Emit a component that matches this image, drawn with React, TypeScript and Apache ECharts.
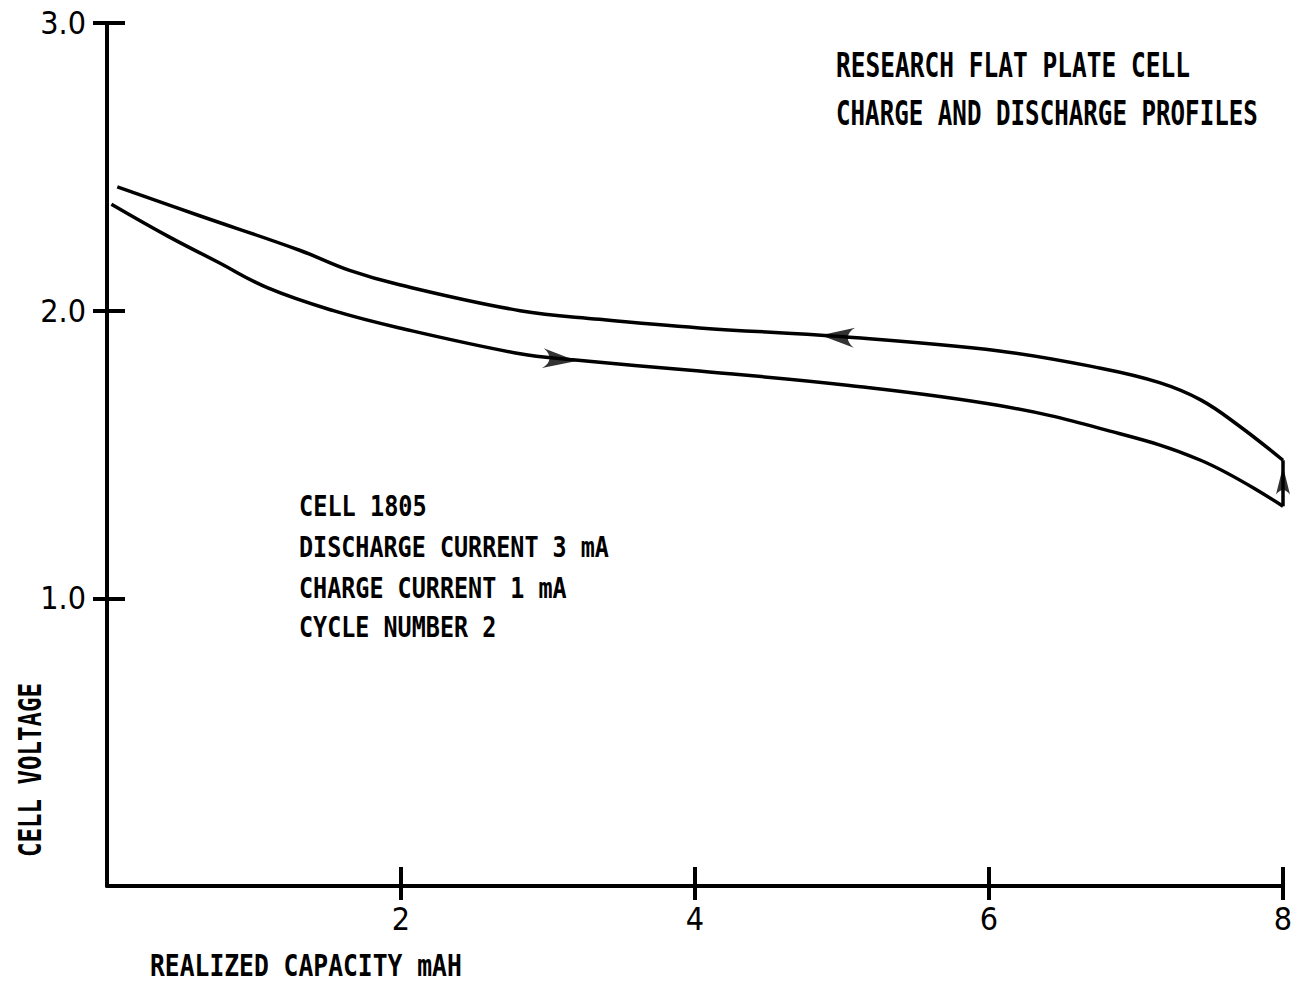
import React, { useEffect, useRef } from "react";
import * as echarts from "echarts";

const MONO = "'DejaVu Sans Mono', 'Liberation Mono', monospace";
const COND = "'DejaVu Sans Condensed', 'Liberation Sans Narrow', sans-serif";

// Discharge (lower) curve: [capacity mAh, voltage]
const dischargeData: [number, number][] = [
  [0.03, 2.37], [0.41, 2.26], [0.75, 2.17], [1.09, 2.08], [1.54, 2.0],
  [1.99, 1.94], [2.81, 1.85], [3.15, 1.83], [4.03, 1.79], [5.05, 1.74],
  [6.07, 1.67], [6.76, 1.59], [7.44, 1.48], [8.0, 1.32],
];

// Charge (upper) curve
const chargeData: [number, number][] = [
  [0.07, 2.43], [0.63, 2.33], [1.31, 2.21], [1.65, 2.14], [1.99, 2.09],
  [2.81, 2.0], [3.35, 1.97], [4.03, 1.94], [4.99, 1.91], [6.07, 1.86],
  [6.76, 1.8], [7.16, 1.75], [7.44, 1.69], [7.7, 1.6], [8.0, 1.48],
];

// Turn-around segment at end of discharge
const turnData: [number, number][] = [[8.0, 1.32], [8.0, 1.48]];

// Direction arrows
const arrowRight: [number, number][] = [[3.08, 1.83]];
const arrowLeft: [number, number][] = [[4.97, 1.91]];
const arrowUp: [number, number][] = [[8.0, 1.41]];

const xTicks = [2, 4, 6, 8];
const yTicks = [1, 2, 3];

const titleLines = ["RESEARCH FLAT PLATE CELL", "CHARGE AND DISCHARGE PROFILES"];
const infoLines = ["CELL 1805", "DISCHARGE CURRENT 3 mA", "CHARGE CURRENT 1 mA", "CYCLE NUMBER 2"];
const xTitle = "REALIZED CAPACITY mAH";
const yTitle = "CELL VOLTAGE";

export default function App() {
  const ref = useRef<HTMLDivElement>(null);
  useEffect(() => {
    if (!ref.current) return;
    const chart = echarts.init(ref.current, undefined, { renderer: "svg" });
    const lineStyle = { color: "#000", width: 3.5 };
    // monospace text, scaled horizontally to a given per-character advance
    const txt = (text: string, x: number, y: number, size: number, advance: number, extra: any = {}) => ({
      type: "text",
      x,
      y,
      scaleX: advance / (size * 0.602),
      ...extra,
      style: {
        text,
        fill: "#000",
        font: `bold ${size}px ${MONO}`,
        lineHeight: size,
        textAlign: extra.align || "left",
        textVerticalAlign: "middle",
      },
    });
    const tickStyle = { color: "#000", width: 4 };
    const labelStyle = { color: "#000", fontSize: 32, fontFamily: COND };
    chart.setOption({
      animation: false,
      backgroundColor: "#fff",
      grid: { left: 107, right: 15, top: 23, bottom: 97 },
      xAxis: [
        {
          type: "value",
          min: 0,
          max: 8,
          interval: 2,
          position: "bottom",
          splitLine: { show: false },
          axisLine: { show: true, lineStyle: { color: "#000", width: 4 } },
          axisTick: { show: true, customValues: xTicks, length: 14, lineStyle: tickStyle },
          axisLabel: { customValues: xTicks, margin: 17, ...labelStyle },
        },
        {
          type: "value",
          min: 0,
          max: 8,
          interval: 2,
          position: "bottom",
          offset: 0,
          splitLine: { show: false },
          axisLine: { show: false },
          axisTick: { show: true, inside: true, customValues: xTicks, length: 19, lineStyle: tickStyle },
          axisLabel: { show: false },
        },
      ],
      yAxis: [
        {
          type: "value",
          min: 0,
          max: 3,
          interval: 1,
          position: "left",
          splitLine: { show: false },
          axisLine: { show: true, lineStyle: { color: "#000", width: 4 } },
          axisTick: { show: true, customValues: yTicks, length: 14, lineStyle: tickStyle },
          axisLabel: {
            customValues: yTicks,
            margin: 21,
            ...labelStyle,
            formatter: (v: number) => v.toFixed(1),
          },
        },
        {
          type: "value",
          min: 0,
          max: 3,
          interval: 1,
          position: "left",
          offset: 0,
          splitLine: { show: false },
          axisLine: { show: false },
          axisTick: { show: true, inside: true, customValues: yTicks, length: 18, lineStyle: tickStyle },
          axisLabel: { show: false },
        },
      ],
      series: [
        {
          name: "Discharge",
          type: "line",
          data: dischargeData,
          smooth: 0.4,
          showSymbol: false,
          lineStyle,
        },
        {
          name: "Turn",
          type: "line",
          data: turnData,
          showSymbol: false,
          lineStyle,
        },
        {
          name: "Charge",
          type: "line",
          data: chargeData,
          smooth: 0.4,
          showSymbol: false,
          lineStyle,
        },
        {
          type: "scatter",
          data: arrowRight,
          symbol: "path://M34,10 L0,0 C9,6 9,14 0,20 Z",
          symbolSize: [34, 20],
          symbolRotate: -5,
          itemStyle: { color: "#000" },
          z: 5,
        },
        {
          type: "scatter",
          data: arrowLeft,
          symbol: "path://M0,10 L34,0 C25,6 25,14 34,20 Z",
          symbolSize: [34, 20],
          symbolRotate: -4,
          itemStyle: { color: "#000" },
          z: 5,
        },
        {
          type: "scatter",
          data: arrowUp,
          symbol: "path://M7,0 L14,28 C9,22 5,22 0,28 Z",
          symbolSize: [14, 28],
          itemStyle: { color: "#000" },
          z: 5,
        },
      ],
      graphic: [
        txt(titleLines[0], 836, 65, 34, 14.75),
        txt(titleLines[1], 836, 113, 34, 14.55),
        txt(infoLines[0], 299, 506, 28, 14.2),
        txt(infoLines[1], 299, 547, 28, 14.1),
        txt(infoLines[2], 299, 588, 28, 14.1),
        txt(infoLines[3], 299, 627, 28, 14.1),
        txt(xTitle, 150, 965, 31, 14.86),
        txt(yTitle, 30, 770, 32, 14.5, { rotation: Math.PI / 2, align: "center" }),
      ],
    });
    return () => chart.dispose();
  }, []);
  return (
    <div
      ref={ref}
      style={{ position: "fixed", left: 0, top: 0, width: 1298, height: 983, background: "#fff" }}
    />
  );
}
